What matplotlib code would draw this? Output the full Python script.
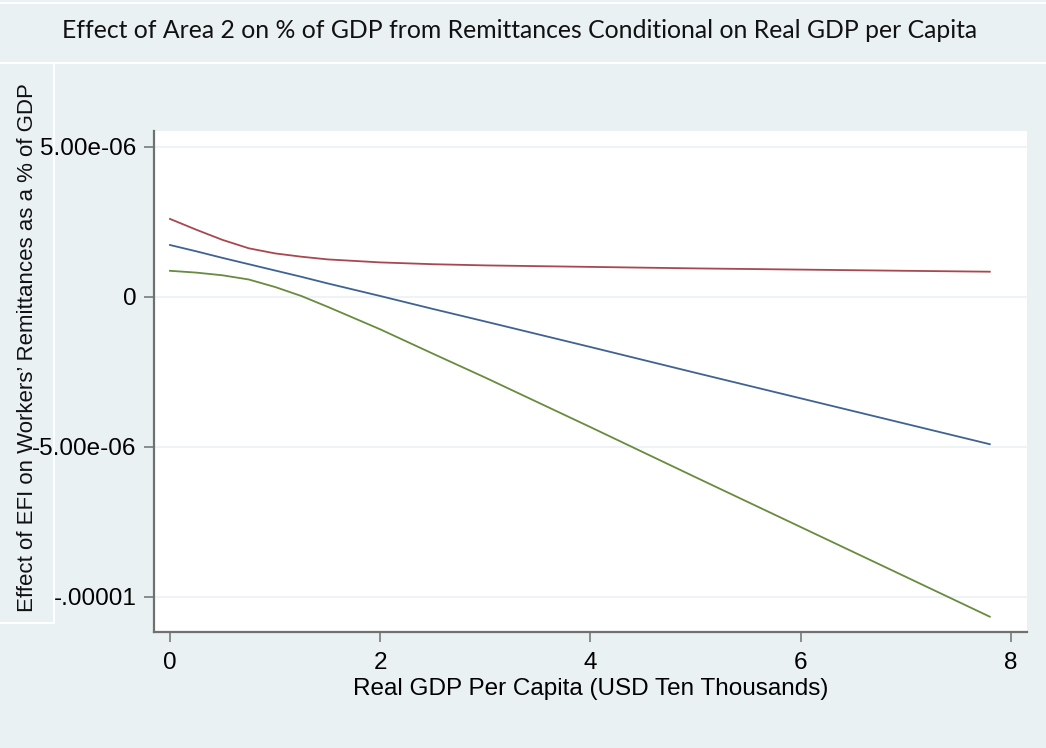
import matplotlib
matplotlib.use("Agg")
import matplotlib.pyplot as plt
from matplotlib.lines import Line2D

# Data, y in units of 1e-6
gdp = [0, 0.25, 0.5, 0.75, 1, 1.25, 1.5, 2, 2.5, 3, 4, 5, 6, 7, 7.8]
effect = [1.73, 1.52, 1.30, 1.09, 0.88, 0.67, 0.45, 0.03, -0.40, -0.82, -1.67, -2.53, -3.38, -4.23, -4.91]
upper = [2.60, 2.24, 1.90, 1.62, 1.45, 1.34, 1.25, 1.15, 1.09, 1.05, 1.00, 0.95, 0.91, 0.87, 0.84]
lower = [0.87, 0.81, 0.72, 0.58, 0.33, 0.03, -0.33, -1.08, -1.89, -2.69, -4.34, -6.01, -7.67, -9.33, -10.66]

yticks = [5e-6, 0, -5e-6, -1e-5]
ytick_labels = ["5.00e-06", "0", "-5.00e-06", "-.00001"]
xticks = [0, 2, 4, 6, 8]

title = "Effect of Area 2 on % of GDP from Remittances Conditional on Real GDP per Capita"
xlabel = "Real GDP Per Capita (USD Ten Thousands)"
ylabel = "Effect of EFI on Workers\u2019 Remittances as a % of GDP"

W, H = 1046, 748
bg = "#EAF1F3"
fig = plt.figure(figsize=(W / 100, H / 100), dpi=100, facecolor=bg)

ax = fig.add_axes([154 / W, 1 - 632 / H, (1027 - 154) / W, (632 - 131) / H])
ax.set_facecolor("white")

scale = 1e-6
ax.plot(gdp, [v * scale for v in upper], color="#a8474f", lw=1.3)
ax.plot(gdp, [v * scale for v in effect], color="#3f6391", lw=1.3)
ax.plot(gdp, [v * scale for v in lower], color="#688b3e", lw=1.3)

ax.set_xlim(-0.152, 8.154)
ax.set_ylim(-11.17e-6, 5.53e-6)

ax.set_yticks(yticks)
ax.set_yticklabels(ytick_labels, fontfamily="Liberation Sans", fontsize=17.5)
ax.set_xticks(xticks)
ax.set_xticklabels([str(t) for t in xticks], fontfamily="Liberation Sans", fontsize=17.5)

ax.grid(axis="y", color="#EEF4F5", lw=1.5)
ax.grid(axis="x", visible=False)
ax.set_axisbelow(True)

for s in ["top", "right"]:
    ax.spines[s].set_visible(False)
for s in ["left", "bottom"]:
    ax.spines[s].set_color("#707070")
    ax.spines[s].set_linewidth(1.6)

ax.tick_params(axis="both", direction="out", length=7.5, width=1.1, color="#707070")
ax.tick_params(axis="y", pad=5)
ax.tick_params(axis="x", pad=7)

ax.set_xlabel(xlabel, fontfamily="Liberation Sans", fontsize=17.5, labelpad=3)

# Title and y-label as figure texts
fig.text(520 / W, 1 - 31 / H, title, ha="center", va="center",
         fontfamily="Lato", fontsize=17.8, color="#111111")
fig.text(28 / W, 1 - 348 / H, ylabel, ha="center", va="center", rotation=90,
         fontfamily="Liberation Sans", fontsize=16, color="#111111")

# White separator lines (Stata style boxes)
def fl(x0, y0, x1, y1):
    fig.add_artist(Line2D([x0 / W, x1 / W], [1 - y0 / H, 1 - y1 / H],
                          color="white", lw=1.5, transform=fig.transFigure))

fl(0, 3, W, 3)
fl(0, 63, W, 63)
fl(54, 65, 54, 623)
fl(0, 623, 54, 623)

fig.savefig("out.png", dpi=100, facecolor=bg)
